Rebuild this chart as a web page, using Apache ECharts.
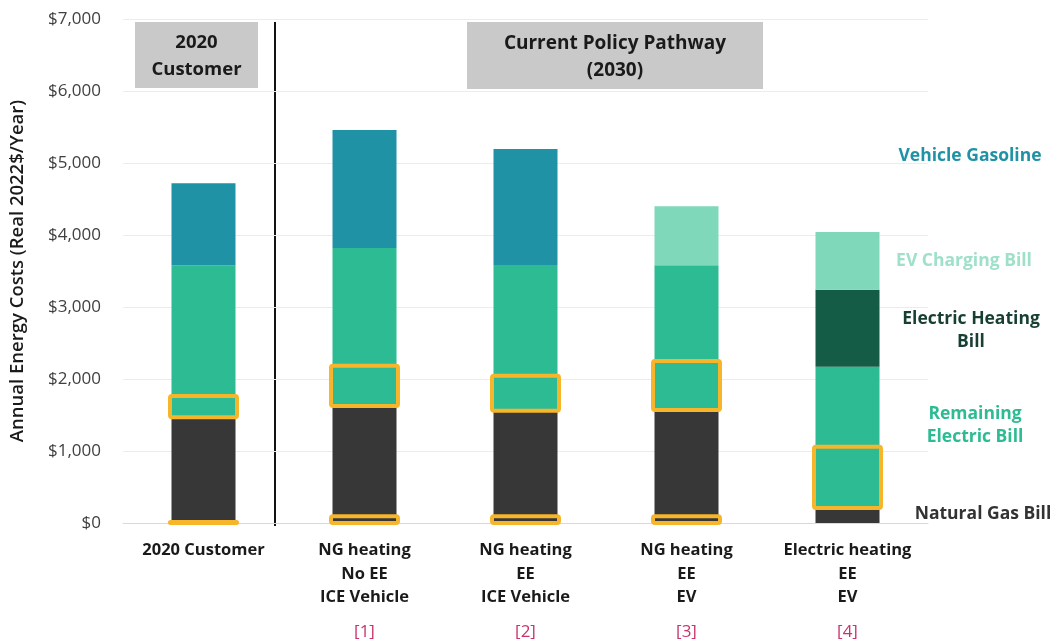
<!DOCTYPE html>
<html>
<head>
<meta charset="utf-8">
<script src="https://cdn.jsdelivr.net/npm/echarts@6/dist/echarts.min.js"></script>
<style>
  html, body { margin: 0; padding: 0; background: #fff; }
  #chart { width: 1057px; height: 639px; }
</style>
</head>
<body>
<div id="chart"></div>
<script>
// Scenario categories along the x axis
const categories = [
  '2020 Customer',
  'NG heating|No EE|ICE Vehicle',
  'NG heating|EE|ICE Vehicle',
  'NG heating|EE|EV',
  'Electric heating|EE|EV'
];
const scenarioRefs = ['', '[1]', '[2]', '[3]', '[4]'];

// Annual bill components (real 2022 $/year), stacked bottom to top
const naturalGasBill      = [1470, 1625, 1560, 1570, 180];
const remainingElecBill   = [2110, 2195, 2025, 2010, 1990];
const electricHeatingBill = [0, 0, 0, 0, 1070];
const evChargingBill      = [0, 0, 0, 820, 800];
const vehicleGasoline     = [1140, 1640, 1610, 0, 0];

// Highlighted cost ranges: [category index, low $, high $]
const highlightRanges = [
  [0, 1470, 1750], [0, 0, 0],
  [1, 1625, 2170], [1, 0, 80],
  [2, 1560, 2030], [2, 0, 80],
  [3, 1570, 2235], [3, 0, 80],
  [4, 210, 1045]
];

const yTicks = { min: 0, max: 7000, interval: 1000 };

const FONT = '"Open Sans", "Noto Sans", sans-serif';
const chart = echarts.init(document.getElementById('chart'));

function stackSeries(name, data, color) {
  return {
    name, type: 'bar', stack: 'total', data,
    barWidth: 64,
    itemStyle: { color },
    emphasis: { disabled: true }
  };
}

chart.setOption({
  animation: false,
  grid: { left: 123, right: 129, top: 19, bottom: 116, containLabel: false, outerBoundsMode: 'none' },
  xAxis: {
    type: 'category',
    data: categories,
    axisLine: { show: true, lineStyle: { color: '#d9d9d9', width: 1 } },
    axisTick: { show: false },
    axisLabel: {
      interval: 0,
      margin: 16,
      formatter: (v, i) => {
        let s = '{b|' + v.split('|').join('}\n{b|') + '}';
        if (scenarioRefs[i]) s += '\n{r|' + scenarioRefs[i] + '}';
        return s;
      },
      rich: {
        b: { fontFamily: FONT, fontWeight: 700, fontSize: 16.5, color: '#1a1a1a', lineHeight: 23.5 },
        r: { fontFamily: FONT, fontWeight: 400, fontSize: 17, color: '#c8336b', lineHeight: 31, verticalAlign: 'bottom' }
      }
    }
  },
  yAxis: {
    type: 'value',
    min: yTicks.min, max: yTicks.max, interval: yTicks.interval,
    name: 'Annual Energy Costs (Real 2022$/Year)',
    nameLocation: 'middle',
    nameGap: 96,
    nameTextStyle: { fontFamily: FONT, fontWeight: 600, fontSize: 18.5, color: '#1a1a1a' },
    axisLine: { show: false },
    axisTick: { show: false },
    splitLine: { lineStyle: { color: '#ececec', width: 1 } },
    axisLabel: {
      margin: 22,
      fontFamily: FONT, fontSize: 17, color: '#404040',
      formatter: v => '$' + v.toLocaleString('en-US')
    }
  },
  series: [
    stackSeries('Natural Gas Bill', naturalGasBill, '#373737'),
    stackSeries('Remaining Electric Bill', remainingElecBill, '#2cbb92'),
    stackSeries('Electric Heating Bill', electricHeatingBill, '#155c47'),
    stackSeries('EV Charging Bill', evChargingBill, '#7fd8b9'),
    stackSeries('Vehicle Gasoline', vehicleGasoline, '#1f92a6'),
    {
      type: 'custom',
      name: 'highlight',
      data: highlightRanges,
      z: 10,
      renderItem: (params, api) => {
        const lo = api.coord([api.value(0), api.value(1)]);
        const hi = api.coord([api.value(0), api.value(2)]);
        const w = 67;
        return {
          type: 'rect',
          shape: { x: lo[0] - w / 2, y: hi[1] - 1, width: w, height: lo[1] - hi[1] + 1, r: 2 },
          style: { fill: 'none', stroke: '#f6b52b', lineWidth: 4 }
        };
      }
    }
  ],
  graphic: [
    // scenario group headers
    { type: 'rect', shape: { x: 135, y: 22, width: 123, height: 66 }, style: { fill: '#c9c9c9' } },
    { type: 'text', x: 196.5, y: 56, style: { text: '2020\nCustomer', fontFamily: FONT, fontWeight: 700, fontSize: 18.5, lineHeight: 27, fill: '#1a1a1a', textAlign: 'center', textVerticalAlign: 'middle' } },
    { type: 'rect', shape: { x: 467, y: 22, width: 296, height: 67 }, style: { fill: '#c9c9c9' } },
    { type: 'text', x: 615, y: 57, style: { text: 'Current Policy Pathway\n(2030)', fontFamily: FONT, fontWeight: 700, fontSize: 19, lineHeight: 27, fill: '#1a1a1a', textAlign: 'center', textVerticalAlign: 'middle' } },
    // divider between 2020 and 2030 scenarios
    { type: 'line', shape: { x1: 275, y1: 22, x2: 275, y2: 526 }, style: { stroke: '#111', lineWidth: 2 } },
    // component labels
    { type: 'text', x: 970, y: 156, style: { text: 'Vehicle Gasoline', fontFamily: FONT, fontWeight: 700, fontSize: 17.5, fill: '#1f92a6', textAlign: 'center', textVerticalAlign: 'middle' } },
    { type: 'text', x: 964, y: 261, style: { text: 'EV Charging Bill', fontFamily: FONT, fontWeight: 700, fontSize: 17.5, fill: '#9fe0c8', textAlign: 'center', textVerticalAlign: 'middle' } },
    { type: 'text', x: 971, y: 331, style: { text: 'Electric Heating\nBill', fontFamily: FONT, fontWeight: 700, fontSize: 17.5, lineHeight: 23, fill: '#173f33', textAlign: 'center', textVerticalAlign: 'middle' } },
    { type: 'text', x: 975, y: 426, style: { text: 'Remaining\nElectric Bill', fontFamily: FONT, fontWeight: 700, fontSize: 17.5, lineHeight: 23, fill: '#2cbb92', textAlign: 'center', textVerticalAlign: 'middle' } },
    { type: 'text', x: 983, y: 514, style: { text: 'Natural Gas Bill', fontFamily: FONT, fontWeight: 700, fontSize: 17.5, fill: '#333', textAlign: 'center', textVerticalAlign: 'middle' } }
  ]
});
</script>
</body>
</html>
